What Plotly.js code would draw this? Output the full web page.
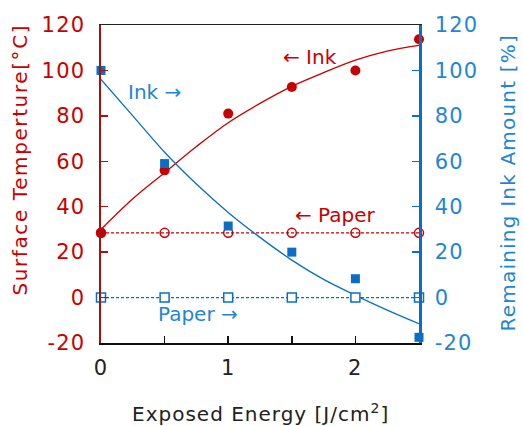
<!DOCTYPE html>
<html>
<head>
<meta charset="utf-8">
<script src="https://cdn.plot.ly/plotly-3.0.1.min.js"></script>
<style>
html,body{margin:0;padding:0;background:#fff;}
#chart{width:523px;height:426px;}
#chart .xtick text, #chart .ytick text, #chart .y2tick text {letter-spacing:1.2px;}
</style>
</head>
<body>
<div id="chart"></div>
<script>
// Measured points
const energy = [0, 0.5, 1, 1.5, 2, 2.5];
const inkTemp = [28.5, 56, 81, 92.7, 100, 113.7];
const paperTemp = [28.5, 28.5, 28.5, 28.5, 28.5, 28.5];
const inkRemain = [100, 59, 31.5, 20, 8.3, -17.5];
const paperRemain = [0, 0, 0, 0, 0, 0];
// Fit curves
const fitX = [0, 0.25, 0.5, 0.75, 1, 1.25, 1.5, 1.75, 2, 2.25, 2.5];
const inkTempFit = [30, 43.5, 55, 66.5, 77, 85.5, 93, 99, 104.5, 108.5, 111];
const inkRemainFit = [96, 80, 64, 50, 37.5, 26.5, 16.5, 8, 1, -5.5, -11.5];
// Axis ticks
const xTickVals = [0, 0.5, 1, 1.5, 2, 2.5];
const xTickText = ['0', '', '1', '', '2', ''];
const yTickVals = [-20, 0, 20, 40, 60, 80, 100, 120];
const yTickText = ['-20', '0', '20', '40', '60', '80', '100', '120'];

const RED = '#c80000', REDAX = '#a81010';
const BLUE = '#0a6fc4', BLUETXT = '#1f86d2';
const FONT = 'DejaVu Sans';

const traces = [
  {x: fitX, y: inkTempFit, mode: 'lines', line: {color: RED, width: 1.3, shape: 'spline'}, yaxis: 'y', hoverinfo: 'skip'},
  {x: fitX, y: inkRemainFit, mode: 'lines', line: {color: BLUE, width: 1.3, shape: 'spline'}, yaxis: 'y2', hoverinfo: 'skip'},
  {x: energy, y: paperTemp, mode: 'lines+markers', line: {color: RED, width: 1.3, dash: '3px,2px'}, cliponaxis: false,
   marker: {symbol: 'circle-open', size: 9, color: RED, line: {width: 1.5, color: RED}}, yaxis: 'y'},
  {x: energy, y: paperRemain, mode: 'lines+markers', line: {color: BLUE, width: 1.3, dash: '3px,2px'}, cliponaxis: false,
   marker: {symbol: 'square', size: 9, color: '#fff', line: {width: 1.5, color: BLUE}}, yaxis: 'y2'},
  {x: energy, y: inkTemp, mode: 'markers', marker: {symbol: 'circle', size: 10, color: RED}, yaxis: 'y', cliponaxis: false},
  {x: energy, y: inkRemain, mode: 'markers', marker: {symbol: 'square', size: 9, color: BLUE}, yaxis: 'y2', cliponaxis: false},
  {x: [0], y: [0], xaxis: 'x2', mode: 'markers', marker: {opacity: 0}, hoverinfo: 'skip'}
];

const L = 101, R = 104, T = 25, B = 83, W = 523, H = 426;
const pw = W - L - R, ph = H - T - B;
const px = v => (v - L) / pw, py = v => (H - B - v) / ph;

const layout = {
  width: W, height: H,
  margin: {l: L, r: R, t: T, b: B},
  showlegend: false,
  paper_bgcolor: '#fff', plot_bgcolor: '#fff',
  font: {family: FONT, size: 20},
  xaxis: {
    range: [0, 2.5], tickvals: xTickVals, ticktext: xTickText,
    ticks: 'inside', ticklen: 7, tickwidth: 1.5, tickcolor: '#111', ticklabelstandoff: 5,
    showgrid: false, zeroline: false,
    showline: true, linecolor: '#111', linewidth: 2,
    tickfont: {family: FONT, size: 21, color: '#222'}
  },
  xaxis2: {overlaying: 'x', side: 'top', range: [0, 2.5], showline: true, linecolor: '#222', linewidth: 1.3,
           showticklabels: false, ticks: '', showgrid: false, zeroline: false},
  yaxis: {
    range: [-20, 120], tickvals: yTickVals, ticktext: yTickText,
    ticks: 'inside', ticklen: 7, tickwidth: 1.5, tickcolor: REDAX, ticklabelstandoff: 9,
    showgrid: false, zeroline: false,
    showline: true, linecolor: REDAX, linewidth: 2.5,
    tickfont: {family: FONT, size: 21, color: RED}
  },
  yaxis2: {
    overlaying: 'y', side: 'right', range: [-20, 120], tickvals: yTickVals, ticktext: yTickText,
    ticks: 'inside', ticklen: 7, tickwidth: 1.5, tickcolor: BLUE, ticklabelstandoff: 9,
    showgrid: false, zeroline: false,
    showline: true, linecolor: BLUE, linewidth: 2.5,
    tickfont: {family: FONT, size: 21, color: BLUETXT}
  },
  annotations: [
    {x: 1.64, y: 106, xref: 'x', yref: 'y', text: '← Ink', showarrow: false, font: {family: FONT, size: 20, color: RED}},
    {x: 0.42, y: 90.5, xref: 'x', yref: 'y', text: 'Ink →', showarrow: false, font: {family: FONT, size: 20, color: BLUETXT}},
    {x: 1.84, y: 36.4, xref: 'x', yref: 'y', text: '← Paper', showarrow: false, font: {family: FONT, size: 20, color: RED}},
    {x: 0.765, y: -7.3, xref: 'x', yref: 'y', text: 'Paper →', showarrow: false, font: {family: FONT, size: 20, color: BLUETXT}},
    {x: px(20), y: py(160), xref: 'paper', yref: 'paper', xanchor: 'center', yanchor: 'middle', text: 'Surface Temperture[°C]', textangle: -90, showarrow: false,
     font: {family: FONT, size: 20, color: RED}},
    {x: px(508), y: py(183), xref: 'paper', yref: 'paper', xanchor: 'center', yanchor: 'middle', text: 'Remaining Ink Amount [%]', textangle: -90, showarrow: false,
     font: {family: FONT, size: 20, color: BLUETXT}},
    {x: px(260), y: py(413), xref: 'paper', yref: 'paper', xanchor: 'center', yanchor: 'middle', text: 'Exposed Energy [J/cm<sup>2</sup>]', showarrow: false,
     font: {family: FONT, size: 20, color: '#222'}}
  ]
};
Plotly.newPlot('chart', traces, layout, {staticPlot: true}).then(gd => {
  gd.querySelectorAll('.annotation-text').forEach(t => {
    const s = t.textContent;
    if (s.indexOf('Surface') >= 0) t.style.letterSpacing = '1.6px';
    if (s.indexOf('Remaining') >= 0) t.style.letterSpacing = '1.2px';
    if (s.indexOf('Exposed') >= 0) t.style.letterSpacing = '1px';
  });
});
</script>
</body>
</html>
